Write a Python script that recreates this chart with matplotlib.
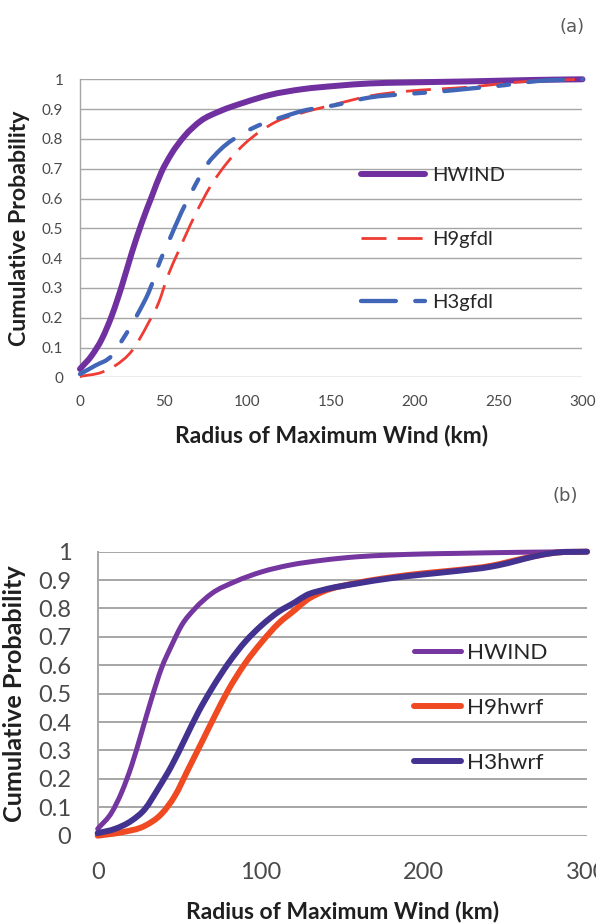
import matplotlib
matplotlib.use("Agg")
import numpy as np
import matplotlib.pyplot as plt
from matplotlib.path import Path
from matplotlib.patches import PathPatch
from matplotlib.lines import Line2D

# ---------------- data ----------------
# Panel (a): HWIND vs. GFDL-based estimates
hwind_a_x = [0, 7, 13, 19, 25, 31, 37, 43, 48.5, 54.5, 62.5, 72, 84, 98, 113, 133, 153, 173, 193, 233, 273, 300]
hwind_a_y = [0.028, 0.073, 0.128, 0.207, 0.307, 0.419, 0.52, 0.609, 0.687, 0.749, 0.81, 0.86, 0.894, 0.922,
             0.947, 0.967, 0.978, 0.986, 0.989, 0.993, 0.998, 1.0]

h9gfdl_x = [0, 13, 21, 31, 41, 47, 52.5, 58.5, 68.5, 78, 88, 98, 108, 118, 130, 153, 173, 193, 213, 233, 253, 269, 300]
h9gfdl_y = [0.003, 0.017, 0.039, 0.089, 0.184, 0.251, 0.341, 0.419, 0.542, 0.642, 0.721, 0.782, 0.827, 0.86,
            0.883, 0.917, 0.944, 0.959, 0.967, 0.974, 0.986, 0.994, 1.0]

h3gfdl_x = [0, 9, 19, 25, 35, 41, 48.5, 52.5, 60.5, 66.5, 76, 84, 98, 110, 118, 133, 153, 173, 193, 213, 233, 253, 273, 300]
h3gfdl_y = [0.011, 0.039, 0.073, 0.123, 0.218, 0.285, 0.40, 0.45, 0.553, 0.62, 0.715, 0.765, 0.821, 0.853, 0.868,
            0.894, 0.914, 0.939, 0.95, 0.958, 0.969, 0.98, 0.994, 1.0]

# Panel (b): HWIND vs. HWRF-based estimates
hwind_b_x = [0, 8.6, 14.7, 20.8, 27, 33, 39, 45.4, 51.5, 59.7, 70, 84, 100.6, 118, 138, 159, 179, 200, 220, 261, 300]
hwind_b_y = [0.024, 0.082, 0.153, 0.247, 0.365, 0.482, 0.588, 0.671, 0.741, 0.80, 0.853, 0.894, 0.929, 0.953,
             0.97, 0.982, 0.988, 0.992, 0.994, 0.998, 1.0]

h9hwrf_x = [0, 14.7, 29, 39, 47.4, 55.6, 63.8, 72, 80, 90.3, 100.6, 110.8, 121, 128, 138, 159, 179, 200, 220,
            241, 261, 281.5, 300]
h9hwrf_y = [0.0, 0.012, 0.035, 0.076, 0.141, 0.235, 0.329, 0.424, 0.512, 0.606, 0.682, 0.747, 0.795, 0.829,
            0.859, 0.89, 0.909, 0.924, 0.935, 0.95, 0.976, 0.997, 1.0]

h3hwrf_x = [0, 10.6, 20.8, 29, 37, 45.4, 53.6, 61.7, 70, 80, 90.3, 100.6, 110.8, 121, 128, 138, 159, 179, 200,
            220, 241, 251, 261, 273, 281.5, 300]
h3hwrf_y = [0.009, 0.024, 0.053, 0.094, 0.165, 0.247, 0.341, 0.435, 0.518, 0.606, 0.682, 0.741, 0.788, 0.822,
            0.847, 0.865, 0.888, 0.906, 0.92, 0.932, 0.947, 0.959, 0.974, 0.99, 0.997, 1.0]

ytick_vals = [0, 0.1, 0.2, 0.3, 0.4, 0.5, 0.6, 0.7, 0.8, 0.9, 1.0]
ytick_labels = ["0", "0.1", "0.2", "0.3", "0.4", "0.5", "0.6", "0.7", "0.8", "0.9", "1"]
xticks_a = [0, 50, 100, 150, 200, 250, 300]
xticks_b = [0, 100, 200, 300]

xlabel_text = "Radius of Maximum Wind (km)"
ylabel_text = "Cumulative Probability"

# ---------------- style ----------------
FONT = "Lato"
GRID = "#A6A6A6"
TICK_COLOR = "#4A4A4A"
LABEL_COLOR = "#1F1F1F"


def smooth_path(x, y):
    """Piecewise cubic Bezier path through the points (Hermite tangents)."""
    x = np.asarray(x, float)
    y = np.asarray(y, float)
    h = np.diff(x)
    d = np.diff(y) / h
    m = np.empty_like(x)
    m[0], m[-1] = d[0], d[-1]
    m[1:-1] = (h[1:] * d[:-1] + h[:-1] * d[1:]) / (h[:-1] + h[1:])
    verts = [(x[0], y[0])]
    codes = [Path.MOVETO]
    for i in range(len(x) - 1):
        t = h[i] / 3.0
        verts += [(x[i] + t, y[i] + m[i] * t),
                  (x[i + 1] - t, y[i + 1] - m[i + 1] * t),
                  (x[i + 1], y[i + 1])]
        codes += [Path.CURVE4] * 3
    return Path(verts, codes)


def draw_curve(ax, x, y, color, lw, ls="-", cap="round"):
    patch = PathPatch(smooth_path(x, y), fill=False, edgecolor=color, lw=lw,
                      linestyle=ls, capstyle=cap, joinstyle="round",
                      clip_on=False, zorder=3)
    ax.add_patch(patch)
    return Line2D([], [], color=color, lw=lw, linestyle=ls,
                  solid_capstyle=cap, dash_capstyle=cap)


def style_axes(ax, xticks, tick_fs, grid_lw, xpad, ypad):
    ax.set_xlim(0, 300)
    ax.set_ylim(0, 1)
    ax.set_xticks(xticks, labels=[str(v) for v in xticks])
    ax.set_yticks(ytick_vals, labels=ytick_labels)
    ax.tick_params(axis="both", length=0, labelsize=tick_fs, labelcolor=TICK_COLOR)
    ax.tick_params(axis="x", pad=xpad)
    ax.tick_params(axis="y", pad=ypad)
    for lab in ax.get_xticklabels() + ax.get_yticklabels():
        lab.set_fontfamily(FONT)
    for s in ("top", "right", "bottom"):
        ax.spines[s].set_visible(False)
    ax.spines["left"].set_color(GRID)
    ax.spines["left"].set_linewidth(grid_lw)
    ax.set_axisbelow(True)
    ax.yaxis.grid(True, color=GRID, lw=grid_lw)
    ax.xaxis.grid(False)


fig = plt.figure(figsize=(5.96, 9.23), dpi=100)

# ---------------- panel (a) ----------------
ax1 = fig.add_axes([0.1342, 0.5912, 0.8431, 0.3229])
style_axes(ax1, xticks_a, 11, 1.0, 13, 12)
h1 = draw_curve(ax1, hwind_a_x, hwind_a_y, "#7030A0", 4.3)
h2 = draw_curve(ax1, h9gfdl_x, h9gfdl_y, "#EE3B33", 2.0, (0, (9, 4)), cap="butt")
h3 = draw_curve(ax1, h3gfdl_x, h3gfdl_y, "#4166B8", 3.1, (0, (8.1, 4.5, 2.5, 4.5)))

ax1.set_xlabel(xlabel_text, fontsize=16.5, fontweight="bold", fontfamily=FONT, color=LABEL_COLOR)
ax1.set_ylabel(ylabel_text, fontsize=16.7, fontweight="bold", fontfamily=FONT, color=LABEL_COLOR)
ax1.xaxis.label.set_verticalalignment("center")
ax1.yaxis.label.set_verticalalignment("center")
ax1.xaxis.set_label_coords(0.5, -0.194)
ax1.yaxis.set_label_coords(-0.120, 0.5)

ax1.legend([h1, h2, h3], ["HWIND", "H9gfdl", "H3gfdl"], loc="center left",
           bbox_to_anchor=(0.559, 0.464), frameon=False, borderpad=0, borderaxespad=0,
           handlelength=3.2, handletextpad=0.35, labelspacing=2.32,
           prop={"family": FONT, "size": 14.5}, labelcolor="#262626")

fig.text(572 / 596, 1 - 27 / 923, "(a)", ha="center", va="center",
         fontsize=13, fontfamily="DejaVu Sans", color="#595959")

# ---------------- panel (b) ----------------
ax2 = fig.add_axes([0.1639, 0.0946, 0.8210, 0.3077])
style_axes(ax2, xticks_b, 17, 1.4, 19, 19)
g1 = draw_curve(ax2, hwind_b_x, hwind_b_y, "#7536A0", 3.6)
g2 = draw_curve(ax2, h9hwrf_x, h9hwrf_y, "#F04A23", 4.3)
g3 = draw_curve(ax2, h3hwrf_x, h3hwrf_y, "#433290", 4.3)

ax2.set_xlabel(xlabel_text, fontsize=16.5, fontweight="bold", fontfamily=FONT, color=LABEL_COLOR)
ax2.set_ylabel(ylabel_text, fontsize=18.2, fontweight="bold", fontfamily=FONT, color=LABEL_COLOR)
ax2.xaxis.label.set_verticalalignment("center")
ax2.yaxis.label.set_verticalalignment("center")
ax2.xaxis.set_label_coords(0.5, -0.268)
ax2.yaxis.set_label_coords(-0.170, 0.5)

ax2.legend([g1, g2, g3], ["HWIND", "H9hwrf", "H3hwrf"], loc="center left",
           bbox_to_anchor=(0.646, 0.450), frameon=False, borderpad=0, borderaxespad=0,
           handlelength=2.1, handletextpad=0.27, labelspacing=1.55,
           prop={"family": FONT, "size": 16.2}, labelcolor="#262626")

fig.text(565 / 596, 1 - 496 / 923, "(b)", ha="center", va="center",
         fontsize=13, fontfamily="DejaVu Sans", color="#595959")

fig.savefig("out.png", dpi=100, facecolor="white")
